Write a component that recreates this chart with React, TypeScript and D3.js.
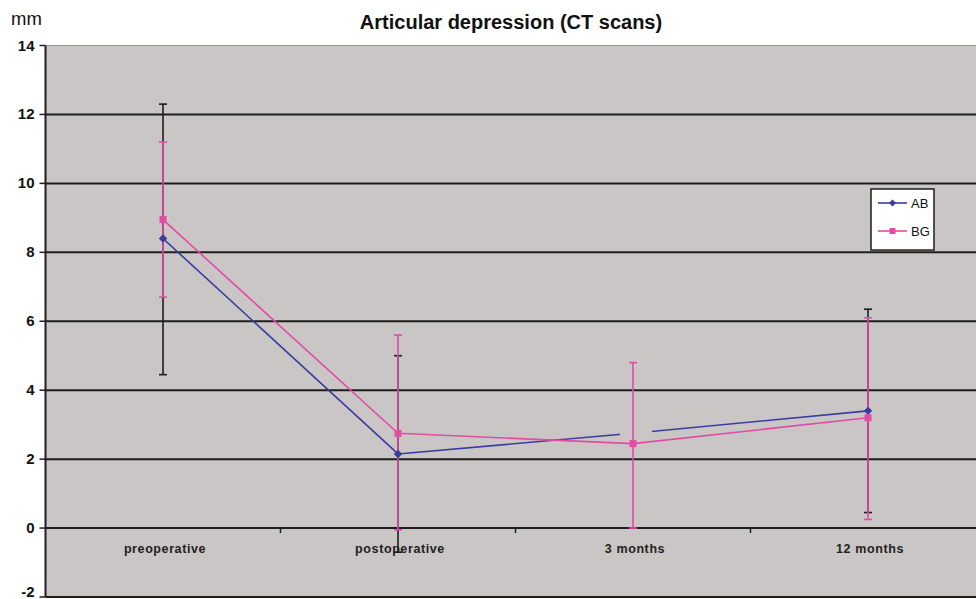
import React from "react";
import * as d3 from "d3";

const categories = ["preoperative", "postoperative", "3 months", "12 months"];
const abValues = [8.4, 2.15, 2.75, 3.4];
const abUpper: (number | null)[] = [12.3, 5.0, null, 6.35];
const abLower: (number | null)[] = [4.45, -0.7, null, 0.45];
const bgValues = [8.95, 2.75, 2.45, 3.2];
const bgUpper = [11.2, 5.6, 4.8, 6.1];
const bgLower = [6.7, -0.05, 0.0, 0.25];
const yTicks = [-2, 0, 2, 4, 6, 8, 10, 12, 14];

const W = 976;
const H = 599;
const left = 45.5;
const right = 985.5;
const top = 45.5;
const bottom = 597;

const AB = "#3c3ca0";
const BG = "#e24ca6";
const PLOT = "#cac6c5";

export default function App() {
  const x = d3.scaleBand<string>().domain(categories).range([left, right]);
  const cx = (c: string) => (x(c) as number) + x.bandwidth() / 2;
  const y = d3.scaleLinear().domain([-2, 14]).range([bottom, top]);

  const seriesLine = d3
    .line<number>()
    .x((_, i) => cx(categories[i]))
    .y((d) => y(d));

  // the AB line is broken around the 3 months point in the original
  const gap = { x0: cx("3 months") - 13, x1: cx("3 months") + 19, y: y(abValues[2]) };

  const errBar = (c: string, lo: number | null, hi: number | null, color: string, key: string) => {
    if (lo === null || hi === null) return null;
    const xc = cx(c);
    return (
      <g key={key} stroke={color} strokeWidth={1.6}>
        <line x1={xc} x2={xc} y1={y(hi)} y2={y(lo)} />
        <line x1={xc - 4} x2={xc + 4} y1={y(hi)} y2={y(hi)} />
        <line x1={xc - 4} x2={xc + 4} y1={y(lo)} y2={y(lo)} />
      </g>
    );
  };

  return (
    <svg
      width={W}
      height={H}
      style={{ position: "absolute", left: 0, top: 0, background: "#fff" }}
      fontFamily="Arial, 'Liberation Sans', sans-serif"
    >
      <rect x={left} y={top} width={right - left} height={bottom - top} fill={PLOT} />
      <text x={511} y={29} textAnchor="middle" fontSize={20} fontWeight="bold" fill="#111">
        Articular depression (CT scans)
      </text>
      <text x={11} y={25} fontSize={18.5} fill="#111">mm</text>

      {/* gridlines */}
      {yTicks.map((t) => (
        <line
          key={"g" + t}
          x1={left}
          x2={right}
          y1={y(t)}
          y2={y(t)}
          stroke={t === 14 ? "#9a9696" : "#1e1e1e"}
          strokeWidth={t === 14 ? 1 : 2}
        />
      ))}

      {/* y axis */}
      <line x1={left} x2={left} y1={top} y2={bottom} stroke="#1e1e1e" strokeWidth={2} />
      {yTicks.map((t) => (
        <g key={"t" + t}>
          <line x1={left - 6} x2={left} y1={y(t)} y2={y(t)} stroke="#1e1e1e" strokeWidth={1.5} />
          <text
            x={left - 11}
            y={Math.min(y(t) + 5, H - 2)}
            textAnchor="end"
            fontSize={15}
            fontWeight="bold"
            fill="#111"
          >
            {t}
          </text>
        </g>
      ))}

      {/* category ticks along zero line */}
      {categories.slice(1).map((c) => (
        <line key={"c" + c} x1={x(c)} x2={x(c)} y1={y(0)} y2={y(0) + 5} stroke="#1e1e1e" strokeWidth={1.5} />
      ))}
      {categories.map((c) => (
        <text
          key={"l" + c}
          x={cx(c) + 2}
          y={y(0) + 25}
          textAnchor="middle"
          fontSize={12.5}
          fontWeight="bold"
          letterSpacing={0.6}
          fill="#222"
        >
          {c}
        </text>
      ))}

      {/* AB series */}
      {categories.map((c, i) => errBar(c, abLower[i], abUpper[i], "#1e1e1e", "ae" + i))}
      <path d={seriesLine(abValues) as string} fill="none" stroke={AB} strokeWidth={1.6} />
      <rect x={gap.x0} y={gap.y - 5} width={gap.x1 - gap.x0} height={10} fill={PLOT} />

      {/* BG series */}
      {categories.map((c, i) => errBar(c, bgLower[i], bgUpper[i], BG, "be" + i))}
      <path d={seriesLine(bgValues) as string} fill="none" stroke={BG} strokeWidth={1.6} />

      {/* markers */}
      {abValues.map((v, i) =>
        i === 2 ? null : (
          <rect
            key={"am" + i}
            x={-3}
            y={-3}
            width={6}
            height={6}
            fill={AB}
            transform={`translate(${cx(categories[i])},${y(v)}) rotate(45)`}
          />
        )
      )}
      {bgValues.map((v, i) => (
        <rect key={"bm" + i} x={cx(categories[i]) - 3.5} y={y(v) - 3.5} width={7} height={7} fill={BG} />
      ))}

      {/* legend */}
      <g>
        <rect x={871} y={189} width={63} height={61} fill="#fff" stroke="#1e1e1e" strokeWidth={1.5} />
        <line x1={878} x2={907} y1={203} y2={203} stroke={AB} strokeWidth={1.6} />
        <rect x={-2.5} y={-2.5} width={5} height={5} fill={AB} transform="translate(892.5,203) rotate(45)" />
        <text x={911} y={208} fontSize={13} fill="#111">AB</text>
        <line x1={878} x2={907} y1={231} y2={231} stroke={BG} strokeWidth={1.6} />
        <rect x={889.5} y={228} width={6} height={6} fill={BG} />
        <text x={911} y={236} fontSize={13} fill="#111">BG</text>
      </g>
    </svg>
  );
}
